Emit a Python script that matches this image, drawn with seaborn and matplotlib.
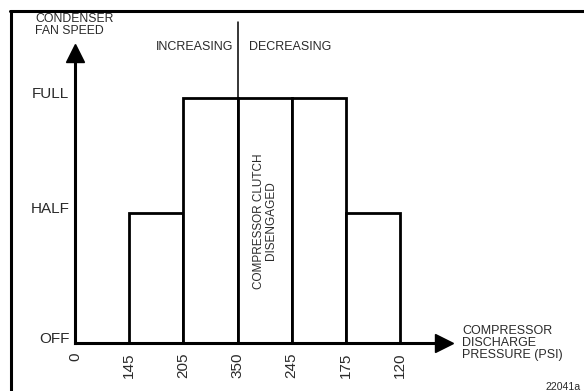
import matplotlib
matplotlib.use("Agg")
import matplotlib.pyplot as plt
from matplotlib.lines import Line2D
import seaborn as sns
import numpy as np
import pandas as pd

# ---- data ----
pressure_labels = ["0", "145", "205", "350", "245", "175", "120"]
level_names = ["OFF", "HALF", "FULL"]
level_values = [0, 53, 100]          # relative fan speed as drawn
segment_speeds = ["HALF", "FULL", "FULL", "FULL", "HALF"]   # between consecutive pressure marks 145..120
divider_label_left = "INCREASING"
divider_label_right = "DECREASING"

sns.set_theme(style="white")
plt.rcParams["font.family"] = ["Liberation Sans", "DejaVu Sans"]

W, H = 584, 391
fig = plt.figure(figsize=(W / 100, H / 100), dpi=100)

def fx(px):
    return px / W

def fy(py):
    return 1 - py / H

# axes: origin at (75, 343) px
x0, y0 = 75, 343
x1, y1 = 444, 53
ax = fig.add_axes([fx(x0), fy(y0), fx(x1) - fx(x0), fy(y1) - fy(y0)])
unit_x = (400 - 75) / 6.0
unit_y = (343 - 98) / 100.0
ax.set_xlim(0, (x1 - x0) / unit_x)
ax.set_ylim(0, (y0 - y1) / unit_y)
ax.set_facecolor("none")

lv = dict(zip(level_names, level_values))
positions = list(range(len(pressure_labels)))
edges = [float(p) for p in positions[1:]]
centers = [(a + b) / 2 for a, b in zip(edges[:-1], edges[1:])]
speeds = [float(lv[s]) for s in segment_speeds]
df = pd.DataFrame({"pos": centers, "speed": speeds})

sns.histplot(data=df, x="pos", weights="speed", bins=edges, ax=ax, color="white",
             edgecolor="black", linewidth=2.0, alpha=1, legend=False)

# divider between increasing / decreasing
div_x = positions[3]
ax.plot([div_x, div_x], [0, (y0 - 22) / unit_y], color="black", lw=1.1, clip_on=False)

# spines as axis arrows
for s in ["top", "right"]:
    ax.spines[s].set_visible(False)
for s in ["left", "bottom"]:
    ax.spines[s].set_linewidth(2.2)
    ax.spines[s].set_color("black")
ax.plot(0, 1, marker="^", markersize=13, color="black", transform=ax.transAxes, clip_on=False)
ax.plot(1, 0, marker=">", markersize=13, color="black", transform=ax.transAxes, clip_on=False)

txtc = "#2a2a2a"
ax.set_xticks(positions)
ax.set_xticklabels(pressure_labels, rotation=90, fontsize=11, color=txtc, va="top")
ax.set_yticks(level_values)
ax.set_yticklabels(level_names, fontsize=11, color=txtc, va="baseline")
ax.tick_params(axis="x", length=0, pad=7)
ax.tick_params(axis="y", length=0, pad=4)
ax.set_xlabel("")
ax.set_ylabel("")
ax.grid(False)

# texts
fig.text(fx(35), fy(25), "CONDENSER\nFAN SPEED", fontsize=8.8, color=txtc,
         ha="left", va="center", linespacing=1.05)
fig.text(fx(233), fy(47), divider_label_left, fontsize=9, color=txtc, ha="right", va="center")
fig.text(fx(249), fy(47), divider_label_right, fontsize=9, color=txtc, ha="left", va="center")
fig.text(fx(462), fy(343), "COMPRESSOR\nDISCHARGE\nPRESSURE (PSI)", fontsize=9, color=txtc,
         ha="left", va="center", linespacing=1.05)
ax.text((div_x + 0.5), (343 - 221) / unit_y, "COMPRESSOR CLUTCH\nDISENGAGED", rotation=90,
        fontsize=8.5, color=txtc, ha="center", va="center", linespacing=1.0)
fig.text(fx(546), fy(387), "22041a", fontsize=7.6, color=txtc, ha="left", va="center")

# frame border (top and left)
fig.add_artist(Line2D([fx(10), 1], [fy(11), fy(11)], color="black", lw=2.2))
fig.add_artist(Line2D([fx(11), fx(11)], [0, fy(11)], color="black", lw=2.2))

fig.savefig("out.png", dpi=100)
